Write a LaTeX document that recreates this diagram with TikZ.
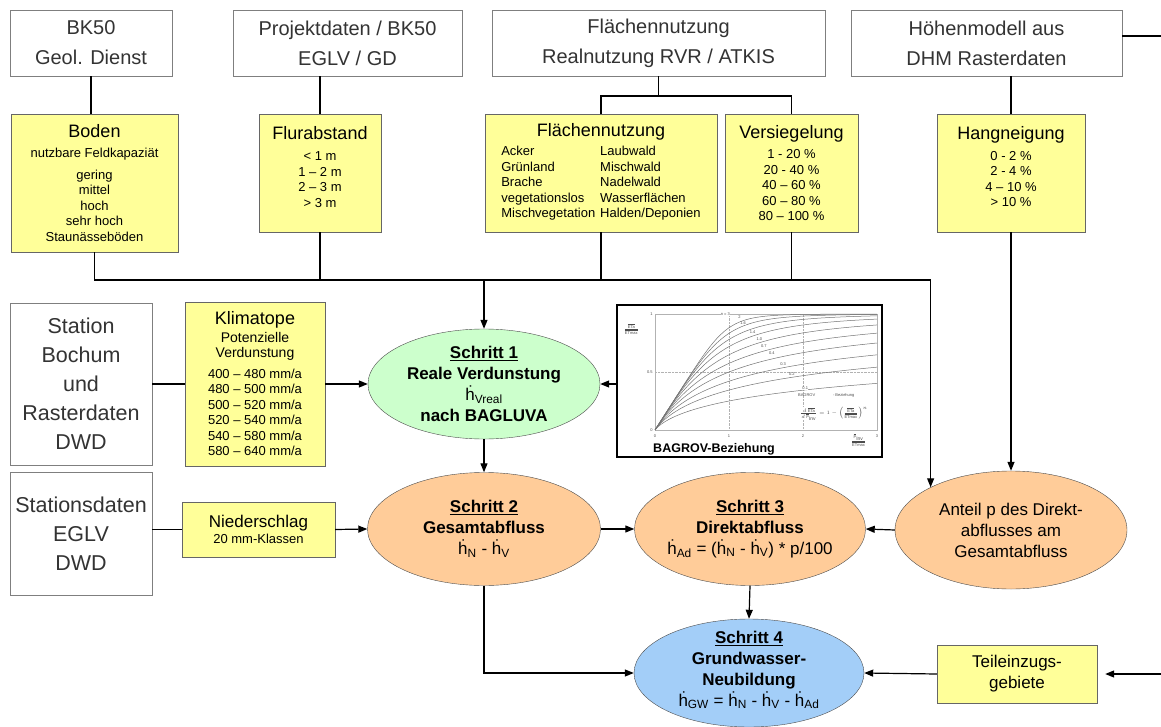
\documentclass[tikz,border=0pt]{standalone}
\usepackage{fontspec}
\setmainfont{Liberation Sans}
\usepackage{tikz}
\usetikzlibrary{shapes.geometric, arrows.meta}
\definecolor{gelb}{HTML}{FFFF99}
\definecolor{hellgruen}{HTML}{CCFFCC}
\definecolor{hellorange}{HTML}{FFCC99}
\definecolor{hellblau}{HTML}{A3CEF8}
\definecolor{rand}{HTML}{7F7F7F}
\newcommand{\hp}{ḣ}
\newcommand{\titel}[1]{{\fontsize{18}{22}\selectfont #1}}
\tikzstyle{quelle}=[draw=rand, fill=white, align=center, text=black!80, inner sep=0pt, font=\fontsize{20}{30}\selectfont]
\tikzstyle{station}=[quelle, font=\fontsize{21.5}{29}\selectfont]
\tikzstyle{gelbbox}=[draw=black!60, fill=gelb, align=center, inner sep=0pt, font=\fontsize{13}{15.5}\selectfont]
\tikzstyle{schritt}=[ellipse, draw=black!70, align=center, inner xsep=-6pt, inner ysep=-14pt, font=\fontsize{17}{21}\selectfont]
\tikzstyle{linie}=[line width=1.2pt, black]
\tikzstyle{pfeil}=[linie, -{Triangle[length=9pt,width=7pt]}]
\tikzstyle{klein}=[inner sep=0pt, font=\fontsize{4}{4.5}\selectfont, text=black!70]

\begin{document}
\begin{tikzpicture}[x=1pt, y=-1pt]
  \useasboundingbox (0,0) rectangle (1161,727);
  \node[quelle, minimum width=162pt, minimum height=66pt] (geol) at (91,43) {BK50\\Geol. Dienst};
  \node[quelle, minimum width=229pt, minimum height=66pt] (proj) at (347.5,43) {Projektdaten / BK50\\EGLV / GD};
  \node[quelle, minimum width=333pt, minimum height=66pt] (flaech) at (658.5,43) {Flächennutzung\\Realnutzung RVR / ATKIS};
  \node[quelle, minimum width=271pt, minimum height=66pt] (hoehe) at (986.5,43) {Höhenmodell aus\\DHM Rasterdaten};

  \node[gelbbox, minimum width=167pt, minimum height=138pt] (boden) at (94.5,183)
    {\titel{Boden}\\[5pt] nutzbare Feldkapaziät\\[6pt] gering\\ mittel\\ hoch\\ sehr hoch\\ Staunässeböden};
  \node[gelbbox, minimum width=122pt, minimum height=118pt] (flur) at (320,173)
    {\titel{Flurabstand}\\[6pt] < 1 m\\ 1 – 2 m\\ 2 – 3 m\\ > 3 m\\[-3pt]\mbox{}};
  \node[gelbbox, minimum width=232pt, minimum height=118pt] (nutz) at (601,173)
    {\titel{Flächennutzung}\\[4pt]
     \begin{tabular}{@{}l@{\hspace{5pt}}l@{}}
     Acker & Laubwald\\ Grünland & Mischwald\\ Brache & Nadelwald\\
     vegetationslos & Wasserflächen\\ Mischvegetation & Halden/Deponien
     \end{tabular}};
  \node[gelbbox, minimum width=133pt, minimum height=118pt] (versieg) at (791.5,173)
    {\titel{Versiegelung}\\[5pt] 1 - 20 \%\\ 20 - 40 \%\\ 40 – 60 \%\\ 60 – 80 \%\\ 80 – 100 \%};
  \node[gelbbox, minimum width=148pt, minimum height=118pt] (hang) at (1011,173)
    {\titel{Hangneigung}\\[5pt] 0 - 2 \%\\ 2 - 4 \%\\ 4 – 10 \%\\ > 10 \%\\[-3pt]\mbox{}};

  \node[station, minimum width=142pt, minimum height=162pt] (station) at (81,384) {Station\\Bochum\\und\\Rasterdaten\\DWD};
  \node[gelbbox, minimum width=140pt, minimum height=164pt] (klima) at (255,384)
    {\titel{Klimatope}\\[2pt] {\fontsize{14}{15.5}\selectfont Potenzielle}\\ {\fontsize{14}{15.5}\selectfont Verdunstung}\\[5pt]
     400 – 480 mm/a\\ 480 – 500 mm/a\\ 500 – 520 mm/a\\ 520 – 540 mm/a\\ 540 – 580 mm/a\\ 580 – 640 mm/a};
  \node[schritt, fill=hellgruen, minimum width=232pt, minimum height=110pt] (s1) at (484,384)
    {\textbf{\underline{Schritt 1}}\\ \textbf{Reale Verdunstung}\\ \hp\textsubscript{Vreal}\\ \textbf{nach BAGLUVA}};
  \node[draw, line width=1.8pt, inner sep=0pt, minimum width=265pt, minimum height=152pt] (bagrov) at (749.5,381) {};

  \begin{scope}[shift={(655,430)}, x=74pt, y=116pt]
    \draw[gray!60, line width=0.4pt] (0,0) rectangle (3,1);
    \draw[gray!60, line width=0.4pt, densely dotted] (1,0) -- (1,1) (2,0) -- (2,1) (0,0.5) -- (3,0.5);
    \foreach \m in {0.5,0.65,0.8,1,1.25,1.6,2.1,2.8,3.8,5.5}
      \draw[black!55, line width=0.5pt] (0,0) -- plot[domain=0.03:3, samples=60] (\x, {\x/((1+\x^\m)^(1/\m))});
    \foreach \n/\px/\py [count=\i] in {n = 3/0.95/1.0, 2/1.14/0.97, 1.6/1.19/0.92, 1.4/1.32/0.84, 1.0/1.41/0.78,
        0.7/1.47/0.72, 0.4/1.58/0.66, 0.3/1.73/0.57, 0.2/1.85/0.48, 0.1/2.03/0.36}
      \node[klein, fill=white, inner sep=0.3pt] (nlab\i) at (\px,\py) {\n};
    \node[klein, anchor=east] (ty1) at (-0.03,1) {1};
    \node[klein, anchor=east] (ty05) at (-0.03,0.5) {0.5};
    \node[klein, anchor=east] (ty0) at (-0.03,0) {0};
    \node[klein, anchor=north] (tx0) at (0,-0.04) {0};
    \node[klein, anchor=north] (tx1) at (1,-0.04) {1};
    \node[klein, anchor=north] (tx2) at (2,-0.04) {2};
    \node[klein, anchor=north] (tx3) at (3,-0.04) {3};
    \node[klein] (ylab) at (-0.32,0.87) {$\frac{\overline{\mbox{ETa}}}{\overline{\mbox{ETmax}}}$};
    \node[klein, anchor=north] (xlab) at (2.75,-0.03) {$\frac{\overline{\mbox{P}}_{\mbox{\tiny Inv}}}{\overline{\mbox{ETmax}}}$};
    \node[klein] (blab) at (2.05,0.3) {BAGROV};
    \node[klein] (bzlab) at (2.55,0.3) {- Beziehung};
    \node[klein, fill=white] (formel) at (2.42,0.14)
      {$\frac{d\,\overline{\mbox{ETa}}}{d\,\overline{\mbox{P}}_{\mbox{\tiny Inv}}} = 1 - \left(\frac{\overline{\mbox{ETa}}}{\overline{\mbox{ETmax}}}\right)^{n}$};
  \end{scope}
  \node[font=\fontsize{12.5}{14}\selectfont\bfseries, inner sep=1pt] (bagrovtext) at (714,449) {BAGROV-Beziehung};

  \node[station, minimum width=142pt, minimum height=123pt] (stdaten) at (81,534) {Stationsdaten\\EGLV\\DWD};
  \node[gelbbox, minimum width=153pt, minimum height=55pt] (nieder) at (258.5,529.5)
    {{\fontsize{17}{20}\selectfont Niederschlag}\\[1pt] 20 mm-Klassen};
  \node[schritt, fill=hellorange, minimum width=233pt, minimum height=113pt] (s2) at (484,529)
    {\textbf{\underline{Schritt 2}}\\ \textbf{Gesamtabfluss}\\ \hp\textsubscript{N} - \hp\textsubscript{V}};
  \node[schritt, fill=hellorange, minimum width=231pt, minimum height=113pt] (s3) at (750,529)
    {\textbf{\underline{Schritt 3}}\\ \textbf{Direktabfluss}\\ \hp\textsubscript{Ad} = (\hp\textsubscript{N} - \hp\textsubscript{V}) * p/100};
  \node[schritt, fill=hellorange, minimum width=232pt, minimum height=118pt] (anteil) at (1011,530)
    {Anteil p des Direkt-\\ abflusses am\\ Gesamtabfluss};
  \node[schritt, fill=hellblau, minimum width=230pt, minimum height=108pt] (s4) at (749,673)
    {\textbf{\underline{Schritt 4}}\\ \textbf{Grundwasser-}\\ \textbf{Neubildung}\\ \hp\textsubscript{GW} = \hp\textsubscript{N} - \hp\textsubscript{V} - \hp\textsubscript{Ad}\\[-12pt]\mbox{}};
  \node[gelbbox, minimum width=160pt, minimum height=58pt, font=\fontsize{17}{21}\selectfont] (teil) at (1017,674) {Teileinzugs-\\gebiete};

  \coordinate (gabel) at (658.5,96);
  \coordinate (sammel) at (484,280);
  \coordinate (knick) at (anteil.152 |- sammel);
  \coordinate (rechtsoben) at (1161,36);
  \coordinate (rechtsunten) at (1161,674);

  \draw[linie] (geol.south) -- (geol.south |- boden.north);
  \draw[linie] (flur.north |- proj.south) -- (flur.north);
  \draw[linie] (flaech.south) -- (gabel);
  \draw[linie] (nutz.north) |- (gabel) -| (versieg.north);
  \draw[linie] (hang.north |- hoehe.south) -- (hang.north);
  \draw[linie] (hoehe.east |- rechtsoben) -- (rechtsoben);

  \draw[pfeil] (boden.south) |- (knick) -- (anteil.152);
  \draw[linie] (flur.south) -- (flur.south |- sammel);
  \draw[linie] (nutz.south) -- (nutz.south |- sammel);
  \draw[linie] (versieg.south) -- (versieg.south |- sammel);
  \draw[pfeil] (sammel) -- (s1.north);
  \draw[pfeil] (hang.south) -- (anteil.north);

  \draw[linie] (station.east) -- (klima.west);
  \draw[pfeil] (klima.east) -- (s1.west);
  \draw[pfeil] (bagrov.west |- s1.east) -- (s1.east);
  \draw[pfeil] (s1.south) -- (s2.north);

  \draw[linie] (stdaten.east |- nieder.west) -- (nieder.west);
  \draw[pfeil] (nieder.east) -- (s2.west);
  \draw[pfeil] (s2.east) -- (s3.west);
  \draw[pfeil] (anteil.west) -- (s3.east);
  \draw[pfeil] (s3.south) -- (s4.north);
  \draw[pfeil] (s2.south) |- (s4.west);
  \draw[pfeil] (teil.west) -- (s4.east);
  \draw[pfeil, shorten >=8pt] (rechtsunten) -- (teil.east);
\end{tikzpicture}
\end{document}
